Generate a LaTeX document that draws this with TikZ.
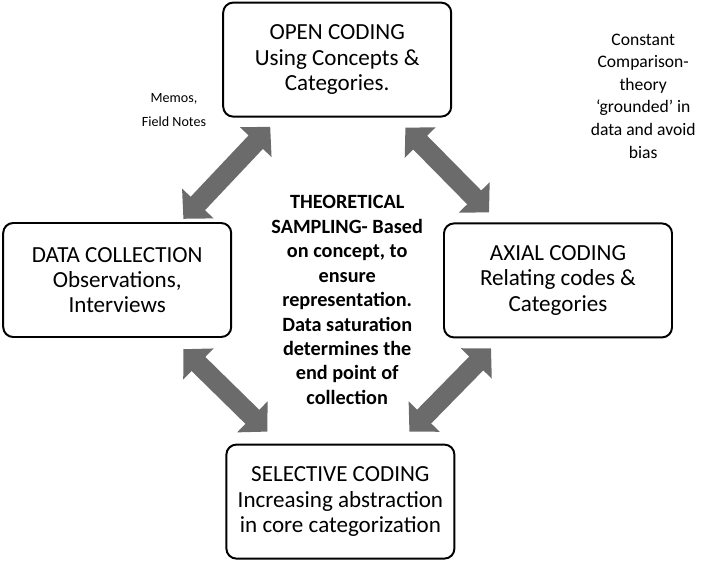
\documentclass[tikz,border=0pt]{standalone}
\usepackage{fontspec}
\setmainfont{Carlito}
\usepackage{xcolor}
\usepackage{tikz}
\usetikzlibrary{arrows.meta}

\definecolor{arrowgray}{RGB}{107,107,107}

\tikzset{
	stagebox/.style={draw=black, line width=1.4pt, rounded corners=0.25cm, minimum width=5.7cm, minimum height=2.85cm, align=center, font=\fontsize{16.4}{18}\selectfont},
	dblarrow/.style={draw=arrowgray, line width=14pt, {Triangle[width=30pt,length=15pt]}-{Triangle[width=30pt,length=15pt]}},
	sidenote/.style={align=center, black}
}

\begin{document}
\begin{tikzpicture}
			\useasboundingbox (0,0) rectangle (17.725,-14.05);
			\node[stagebox] (oc) at (8.43,-1.49) {OPEN CODING\\Using Concepts \&\\Categories.};
			\node[stagebox] (dc) at (2.93,-7.00) {DATA COLLECTION\\Observations,\\Interviews};
			\node[stagebox] (ac) at (13.95,-7.01) {AXIAL CODING\\Relating codes \&\\Categories};
			\node[stagebox] (sc) at (8.51,-12.54) {SELECTIVE CODING\\Increasing abstraction\\in core categorization};
			\draw[dblarrow] ([xshift=-1.22cm,yshift=0.08cm]dc.north east) -- ([xshift=1.20cm,yshift=-0.23cm]oc.south west);
			\draw[dblarrow] ([xshift=-1.17cm,yshift=-0.25cm]oc.south east) -- ([xshift=1.15cm,yshift=0.25cm]ac.north west);
			\draw[dblarrow] ([xshift=-1.22cm,yshift=-0.28cm]dc.south east) -- ([xshift=1.05cm,yshift=0.30cm]sc.north west);
			\draw[dblarrow] ([xshift=1.20cm,yshift=-0.25cm]ac.south west) -- ([xshift=-1.15cm,yshift=0.30cm]sc.north east);
			\node[sidenote, font=\bfseries\fontsize{14.4}{17.4}\selectfont] (sampling) at (8.68,-7.50) {THEORETICAL\\SAMPLING- Based\\on concept, to\\ensure\\representation.\\Data saturation\\determines the\\end point of\\collection};
			\node[sidenote, font=\fontsize{10}{16.5}\selectfont] (memos) at (4.35,-2.75) {Memos,\\Field Notes};
			\node[sidenote, font=\fontsize{12.5}{16.1}\selectfont] (comparison) at (16.08,-2.40) {Constant\\Comparison-\\theory\\‘grounded’ in\\data and avoid\\bias};
		\end{tikzpicture}
\end{document}
